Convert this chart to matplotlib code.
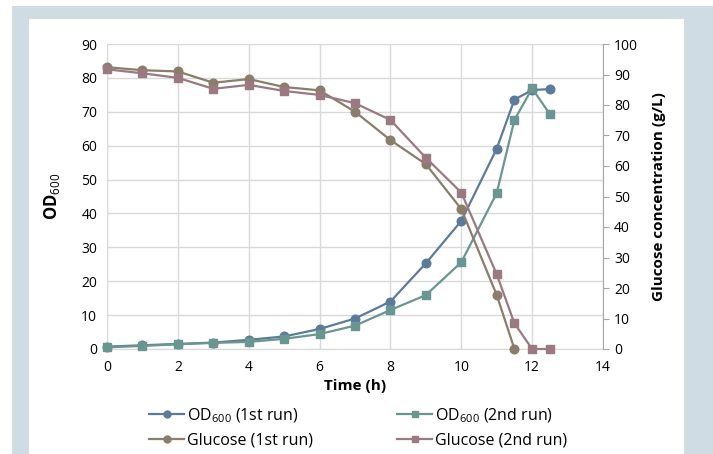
import matplotlib
matplotlib.use("Agg")
import matplotlib.pyplot as plt
from matplotlib.lines import Line2D
from matplotlib.patches import Rectangle

plt.rcParams['font.family'] = ['Open Sans', 'DejaVu Sans']
plt.rcParams['mathtext.fontset'] = 'custom'
plt.rcParams['mathtext.rm'] = 'Open Sans'
plt.rcParams['mathtext.bf'] = 'Open Sans:bold'

# Sampling times (h)
time = [0, 1, 2, 3, 4, 5, 6, 7, 8, 9, 10, 11, 11.5, 12, 12.5]
od_run1 = [0.7, 1.1, 1.5, 1.9, 2.7, 3.7, 5.9, 9.0, 14.0, 25.3, 37.8, 59.1, 73.6, 76.4, 76.7]
od_run2 = [0.5, 0.9, 1.4, 1.8, 2.1, 3.0, 4.4, 6.9, 11.5, 15.9, 25.6, 46.0, 67.6, 76.9, 69.3]

time_glc1 = [0, 1, 2, 3, 4, 5, 6, 7, 8, 9, 10, 11, 11.5]
glc_run1 = [92.4, 91.4, 91.0, 87.3, 88.5, 85.9, 84.8, 77.8, 68.5, 60.6, 45.9, 17.7, 0.0]
glc_run2 = [91.7, 90.4, 88.9, 85.3, 86.6, 84.6, 83.3, 80.6, 75.1, 62.7, 51.3, 24.5, 8.4, 0.0, 0.0]

x_ticks = [0, 2, 4, 6, 8, 10, 12, 14]
left_ticks = [0, 10, 20, 30, 40, 50, 60, 70, 80, 90]
right_ticks = [0, 10, 20, 30, 40, 50, 60, 70, 80, 90, 100]

c_od1 = '#5C7B9B'
c_od2 = '#699690'
c_glc1 = '#8B7D6B'
c_glc2 = '#9A7980'
grid_c = '#D9D9D9'
spine_c = '#A6A6A6'
frame_c = '#CFDCE4'

W, H = 713, 454
fig = plt.figure(figsize=(W / 100, H / 100), dpi=100)
fig.patch.set_facecolor('white')
# light frame around the white panel
fig.add_artist(Rectangle((12 / W, 0), (W - 12) / W, (H - 6) / H,
                         transform=fig.transFigure, facecolor=frame_c,
                         edgecolor='none', zorder=0))
fig.add_artist(Rectangle((29 / W, 0), (684 - 29) / W, (H - 19) / H,
                         transform=fig.transFigure, facecolor='white',
                         edgecolor='none', zorder=0))

ax = fig.add_axes([107 / W, 1 - 349 / H, (603 - 107) / W, (349 - 44) / H])
ax2 = ax.twinx()
ax.patch.set_alpha(0)

lw = 1.6
ms = 6.2
ax.plot(time, od_run1, color=c_od1, marker='o', lw=lw, ms=ms, zorder=3, clip_on=False)
ax.plot(time, od_run2, color=c_od2, marker='s', lw=lw, ms=ms, zorder=3, clip_on=False)
ax2.plot(time_glc1, glc_run1, color=c_glc1, marker='o', lw=lw, ms=ms, zorder=3, clip_on=False)
ax2.plot(time, glc_run2, color=c_glc2, marker='s', lw=lw, ms=ms, zorder=3, clip_on=False)

ax.set_xlim(0, 14)
ax.set_ylim(0, 90)
ax2.set_ylim(0, 100)
ax.set_xticks(x_ticks)
ax.set_yticks(left_ticks)
ax2.set_yticks(right_ticks)

ax.grid(True, color=grid_c, lw=1.0)
ax.set_axisbelow(True)
ax.spines['top'].set_visible(False)
ax2.spines['top'].set_visible(False)
ax2.spines['left'].set_visible(False)
ax2.spines['bottom'].set_visible(False)
ax.spines['right'].set_visible(False)
ax.spines['left'].set_color(grid_c)
ax.spines['bottom'].set_color(grid_c)
ax2.spines['right'].set_color(spine_c)

ax.tick_params(axis='both', length=0, labelsize=10, labelcolor='black')
ax.tick_params(axis='x', pad=8)
ax.tick_params(axis='y', pad=7)
ax2.tick_params(axis='y', length=4, color=spine_c, labelsize=10, pad=4)

ax.set_xlabel('Time (h)', fontsize=11, fontweight='bold', labelpad=3)
ax.set_ylabel(r'$\mathbf{OD}_{\mathrm{600}}$', fontsize=12, labelpad=14)
ax2.set_ylabel('Glucose concentration (g/L)', fontsize=11, fontweight='bold', labelpad=10)

handles = [
    Line2D([], [], color=c_od1, marker='o', lw=lw, ms=5),
    Line2D([], [], color=c_od2, marker='s', lw=lw, ms=5),
    Line2D([], [], color=c_glc1, marker='o', lw=lw, ms=5),
    Line2D([], [], color=c_glc2, marker='s', lw=lw, ms=5),
]
labels = [r'OD$_{\mathrm{600}}$ (1st run)', 'Glucose (1st run)',
          r'OD$_{\mathrm{600}}$ (2nd run)', 'Glucose (2nd run)']
order = [0, 2, 1, 3]
fig.legend([handles[i] for i in order], labels, ncol=2, frameon=False,
           loc='upper center', bbox_to_anchor=(358 / W, 1 - 392 / H),
           fontsize=11.5, handlelength=2.2, handletextpad=0.15,
           columnspacing=5.3, labelspacing=0.5)

fig.savefig('out.png', dpi=100, facecolor=fig.get_facecolor())
